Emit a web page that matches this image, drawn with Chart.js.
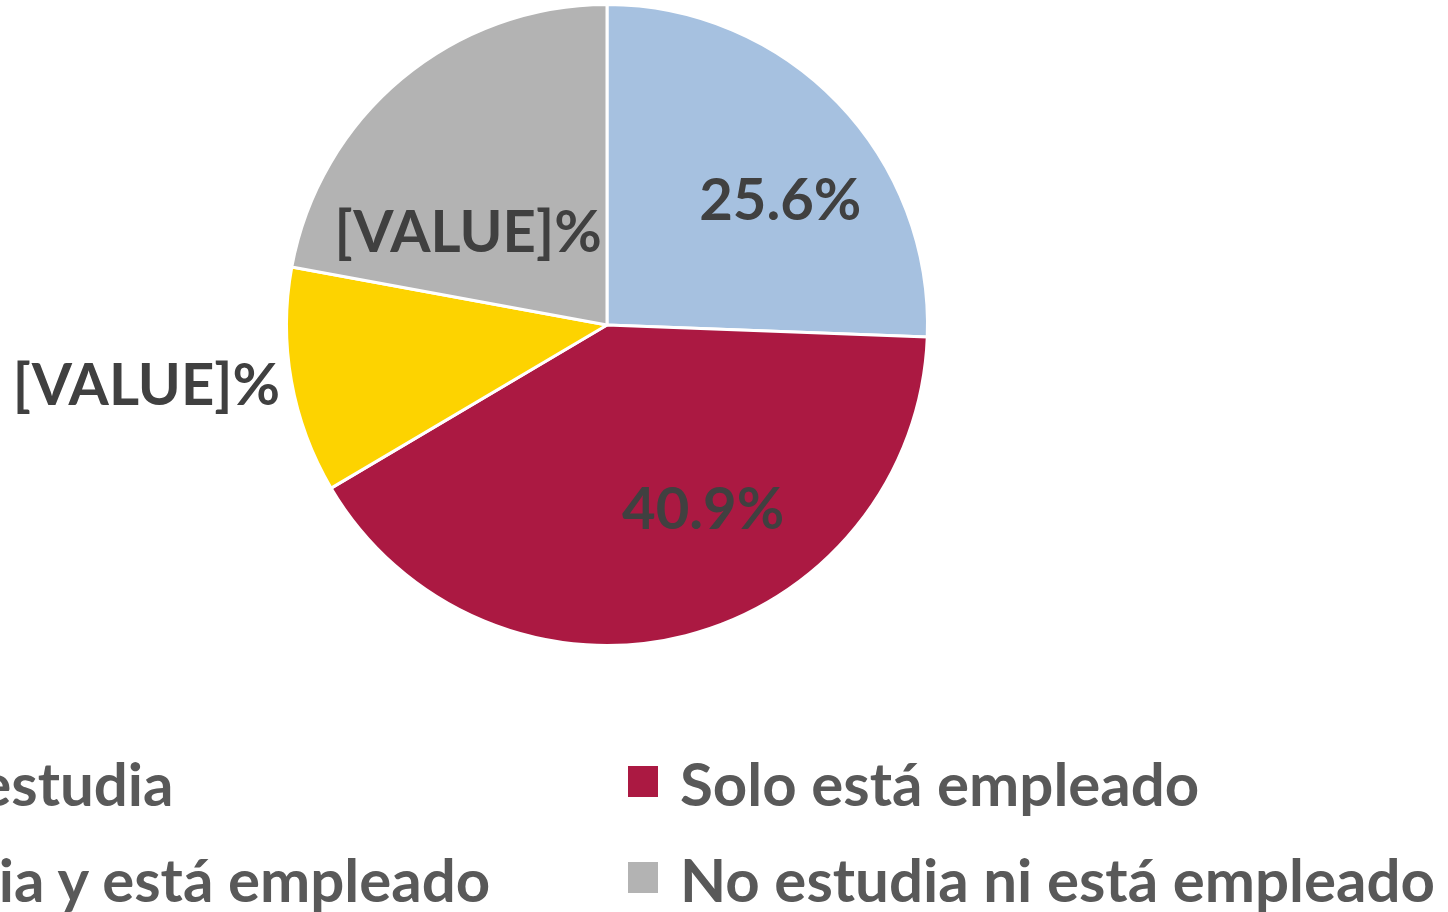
<!DOCTYPE html>
<html>
<head>
<meta charset="utf-8">
<script src="https://cdn.jsdelivr.net/npm/chart.js@4.4.0/dist/chart.umd.min.js"></script>
<style>
  html, body { margin: 0; padding: 0; background: #fff; overflow: hidden; }
  #wrap { position: relative; width: 1448px; height: 912px; overflow: hidden; }
  #chart-box { position: absolute; left: 0; top: 0; width: 1448px; height: 912px; }
  .leg-item { position: absolute; height: 60px; line-height: 60px; white-space: nowrap;
    font-family: Lato, "Open Sans", sans-serif; font-weight: 700; font-size: 60px; color: #595959; }
  .leg-box { position: absolute; top: 13px; width: 30px; height: 31px; }
  .leg-text { position: absolute; left: 52px; top: 0; }
</style>
</head>
<body>
<div id="wrap">
  <div id="chart-box"><canvas id="pie"></canvas></div>
  <div id="legend"></div>
</div>
<script>
// data
const categories = ['Solo estudia', 'Solo está empleado', 'Estudia y está empleado', 'No estudia ni está empleado']
const shares = [25.6, 40.9, 11.4, 22.1]
const labelTexts = ['25.6%', '40.9%', '[VALUE]%', '[VALUE]%']
const sliceColors = ['#A6C1E0', '#AB1942', '#FDD300', '#B3B3B3']

// where each label sits: fraction along the slice angle, fraction of radius
const labelSpots = [
    { t: 0.59, r: 0.665 },
    { t: 0.41, r: 0.65 },
    { t: 0.56, r: 1.45 },
    { t: 0.29, r: 0.52 }
]

const labelPlugin = {
    id: 'sliceLabels',
    afterDatasetsDraw(chart) {
        const ctx = chart.ctx
        const arcs = chart.getDatasetMeta(0).data
        ctx.save()
        ctx.font = '700 58px Lato, "Open Sans", sans-serif'
        ctx.fillStyle = '#404040'
        ctx.textAlign = 'center'
        ctx.textBaseline = 'middle'
        arcs.forEach((arc, i) => {
            const p = arc.getProps(['x', 'y', 'startAngle', 'endAngle', 'outerRadius'], true)
            const a = p.startAngle + labelSpots[i].t * (p.endAngle - p.startAngle)
            const rr = p.outerRadius * labelSpots[i].r
            ctx.fillText(labelTexts[i], p.x + Math.cos(a) * rr, p.y + Math.sin(a) * rr)
        })
        ctx.restore()
    }
}

const ctx = document.getElementById('pie').getContext('2d')
new Chart(ctx, {
    type: 'pie',
    data: {
        labels: categories,
        datasets: [{
            data: shares,
            backgroundColor: sliceColors,
            borderColor: '#ffffff',
            borderWidth: 3
        }]
    },
    options: {
        responsive: true,
        maintainAspectRatio: false,
        animation: false,
        layout: { padding: { left: 285, right: 519, top: 3, bottom: 265 } },
        plugins: {
            legend: { display: false },
            tooltip: { enabled: false }
        }
    },
    plugins: [labelPlugin]
})

// legend, two columns, left column runs off the page
const legend = document.getElementById('legend')
const colX = [-204, 628]
const rowY = [753, 849]
categories.forEach((name, i) => {
    const item = document.createElement('div')
    item.className = 'leg-item'
    item.style.left = colX[i % 2] + 'px'
    item.style.top = rowY[Math.floor(i / 2)] + 'px'
    item.innerHTML = `<div class="leg-box" style="background:${sliceColors[i]}"></div><div class="leg-text">${name}</div>`
    legend.appendChild(item)
})
</script>
</body>
</html>
